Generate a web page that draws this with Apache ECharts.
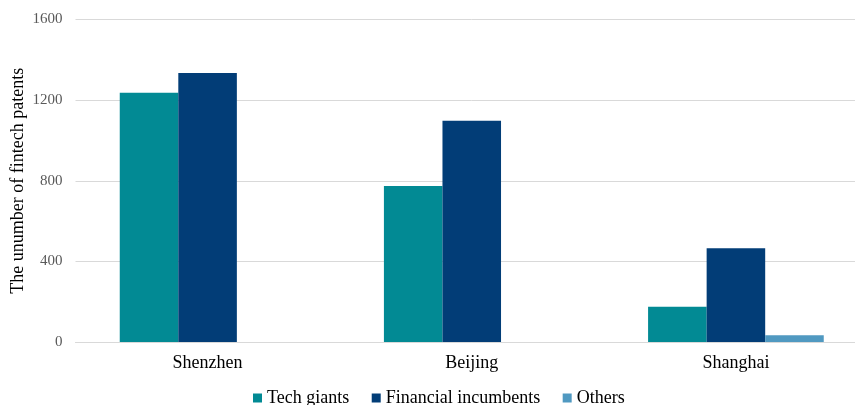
<!DOCTYPE html>
<html><head><meta charset="utf-8">
<script src="https://cdn.jsdelivr.net/npm/echarts@6/dist/echarts.min.js"></script>
<style>html,body{margin:0;padding:0;background:#fff;overflow:hidden}#c{width:868px;height:405px}</style>
</head><body><div id="c"></div>
<script>
const categories = ['Shenzhen', 'Beijing', 'Shanghai'];
const techGiants = [1237, 774, 175];
const financialIncumbents = [1334, 1098, 465];
const others = [0, 0, 33];
const yTicks = { min: 0, max: 1600, interval: 400 };

const font = 'Times New Roman';
const chart = echarts.init(document.getElementById('c'));
chart.setOption({
  animation: false,
  textStyle: { fontFamily: font },
  grid: { left: 75.5, right: 0, top: 19.5, bottom: 63, containLabel: false, outerBoundsMode: 'none' },
  legend: {
    bottom: -7, left: 248, itemWidth: 9, itemHeight: 9, itemGap: 22.5,
    icon: 'rect',
    textStyle: { fontFamily: font, fontSize: 18, color: '#000' },
    data: ['Tech giants', 'Financial incumbents', 'Others']
  },
  xAxis: {
    type: 'category', data: categories,
    axisLine: { show: true, lineStyle: { color: '#d9d9d9', width: 1 } },
    axisTick: { show: false },
    axisLabel: { fontFamily: font, fontSize: 18, color: '#000', margin: 12 }
  },
  yAxis: {
    type: 'value', min: yTicks.min, max: yTicks.max, interval: yTicks.interval,
    name: 'The unumber of fintech patents', nameLocation: 'middle', nameGap: 48.5,
    nameMoveOverlap: false,
    nameTextStyle: { fontFamily: font, fontSize: 18, color: '#000' },
    axisLine: { show: false }, axisTick: { show: false },
    axisLabel: { fontFamily: font, fontSize: 15, color: '#595959', margin: 13,
      formatter: function (v) { return String(v); } },
    splitLine: { lineStyle: { color: '#d9d9d9', width: 1 } }
  },
  series: [
    { name: 'Tech giants', type: 'bar', data: techGiants, barGap: '0%', barCategoryGap: '33.5%',
      itemStyle: { color: '#028A94' } },
    { name: 'Financial incumbents', type: 'bar', data: financialIncumbents, barGap: '0%', barCategoryGap: '33.5%',
      itemStyle: { color: '#023D77' } },
    { name: 'Others', type: 'bar', data: others, barGap: '0%', barCategoryGap: '33.5%',
      itemStyle: { color: '#5099C1' } }
  ]
});
</script></body></html>
